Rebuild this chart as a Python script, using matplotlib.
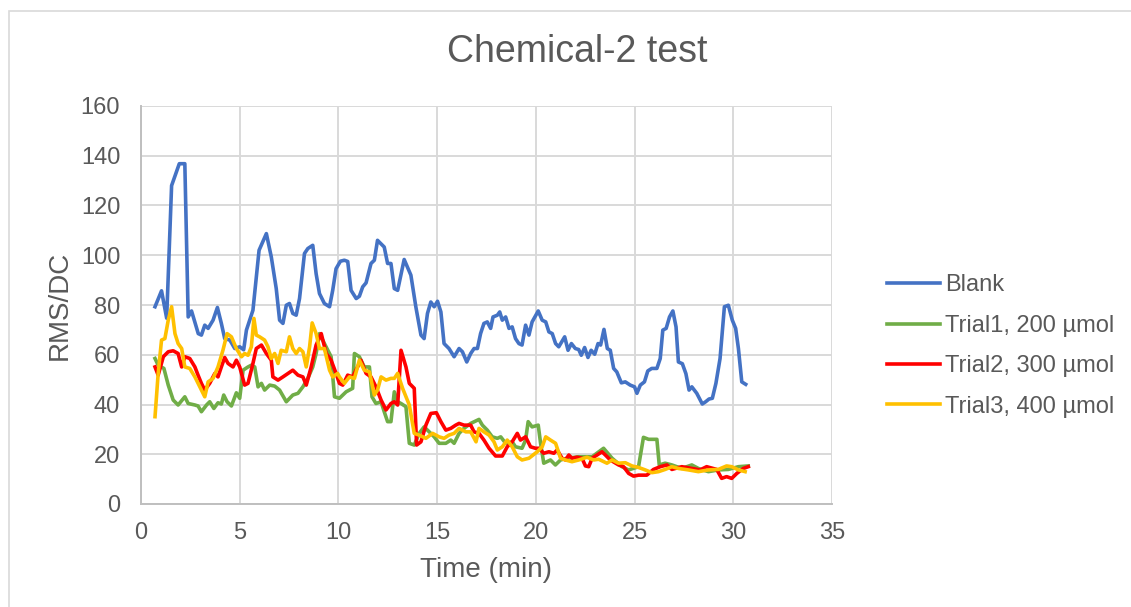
import matplotlib
matplotlib.use("Agg")
import matplotlib.pyplot as plt
from matplotlib.patches import Rectangle

plt.rcParams['font.family'] = ['Liberation Sans', 'DejaVu Sans']

# Blank
blank_x = [0.71, 1.04, 1.3, 1.55, 1.94, 2.22, 2.39, 2.56, 2.9, 3.06, 3.23, 3.4, 3.65, 3.87, 4.07,
           4.24, 4.5, 4.75, 5.0, 5.2, 5.34, 5.67, 5.98, 6.35, 6.6, 6.85, 7.02, 7.19, 7.36, 7.52,
           7.69, 7.86, 8.03, 8.28, 8.45, 8.7, 8.87, 9.04, 9.29, 9.55, 9.71, 9.88, 10.1, 10.3,
           10.47, 10.64, 10.9, 11.06, 11.23, 11.4, 11.65, 11.82, 11.98, 12.32, 12.49, 12.66,
           12.83, 13.0, 13.33, 13.67, 13.92, 14.18, 14.34, 14.51, 14.68, 14.85, 15.02, 15.19,
           15.35, 15.6, 15.86, 16.11, 16.28, 16.5, 16.7, 16.87, 17.04, 17.2, 17.37, 17.54,
           17.71, 17.83, 18.05, 18.17, 18.3, 18.47, 18.64, 18.8, 18.97, 19.14, 19.3, 19.48,
           19.65, 19.81, 20.12, 20.32, 20.5, 20.66, 20.83, 21.0, 21.16, 21.46, 21.63, 21.8,
           22.0, 22.17, 22.3, 22.47, 22.64, 22.8, 22.98, 23.15, 23.28, 23.45, 23.62, 23.77,
           23.94, 24.1, 24.33, 24.53, 24.78, 25.0, 25.12, 25.29, 25.5, 25.67, 25.87, 26.13,
           26.3, 26.43, 26.6, 26.77, 26.94, 27.1, 27.22, 27.42, 27.6, 27.76, 27.9, 28.15,
           28.43, 28.6, 28.77, 28.94, 29.12, 29.33, 29.55, 29.75, 29.95, 30.12, 30.26, 30.43,
           30.63]
blank_y = [79.3, 85.7, 74.7, 128, 136.8, 136.8, 75.2, 77.6, 68.5, 67.9, 71.9, 70.6, 73.9, 79, 72.6,
           66.5, 65.9, 62.5, 63.2, 62, 69.9, 77.9, 102, 108.7, 99.3, 86.6, 73.9, 72.6, 79.9, 80.6,
           76.6, 75.9, 82.6, 100.7, 102.7, 104, 92.6, 84.6, 80.6, 79.3, 85.9, 94.6, 97.6, 98,
           97.5, 85.9, 82.6, 83.5, 87.3, 88.9, 96.7, 98, 106, 103.3, 96.7, 96.7,
           86.6, 85.9, 98.3, 92, 79.3, 67.9, 66.5, 76.6, 81.2, 79.3, 81.5, 77.2,
           64.5, 62.5, 59.2, 62.5, 61.2, 57.1, 60.5, 62.5, 62.5, 68.5, 72.6, 73.2,
           70.6, 75.2, 75.9, 77.2, 73.9, 75.2, 70.6, 71.2, 66.5, 64.5, 63.9, 71.9,
           67.9, 73.2, 77.6, 73.9, 73.2, 69.2, 68.5, 64.5, 63.2, 67.2, 61.8, 64.5,
           62.5, 62.1, 59.8, 62.9, 58.9, 61.8, 60.2, 64.5, 63.9, 70.2, 62.5, 61.8,
           54.5, 53.1, 48.7, 49.1, 47.8, 47.1, 44.5, 47.8, 49.1, 53.5, 54.5, 54.5,
           58.5, 69.9, 70.6, 75.2, 77.6, 71.2, 57.1, 56.4, 52.4, 45.8, 47.1, 44.5,
           40.2, 41.1, 42.2, 42.5, 48.5, 58.5, 79.3, 79.9, 73.9, 70.6, 62.5, 49.1,
           48.1]

# Trial1, 200 umol
t1_x = [0.71, 0.87, 1.16, 1.38, 1.63, 1.88, 2.22, 2.39, 2.73, 2.89, 3.06, 3.32, 3.48, 3.69, 3.9,
        4.07, 4.19, 4.36, 4.58, 4.83, 5.0, 5.17, 5.42, 5.59, 5.76, 5.93, 6.1, 6.26, 6.52, 6.77,
        7.02, 7.36, 7.69, 7.95, 8.2, 8.45, 8.7, 8.87, 9.04, 9.29, 9.63, 9.8, 10.05, 10.39,
        10.72, 10.81, 11.06, 11.31, 11.57, 11.7, 11.9, 12.16, 12.32, 12.49, 12.66, 12.83,
        13.0, 13.17, 13.42, 13.59, 13.84, 14.09, 14.34, 14.6, 14.85, 15.1, 15.44, 15.69,
        15.86, 16.11, 16.36, 16.7, 17.12, 17.29, 17.54, 17.79, 18.05, 18.22, 18.47, 18.8,
        18.97, 19.3, 19.48, 19.61, 19.81, 20.12, 20.24, 20.4, 20.74, 20.99, 21.25, 21.58,
        22.17, 22.85, 23.43, 23.86, 24.36, 24.7, 25.2, 25.45, 25.71, 26.13, 26.25, 26.55,
        26.89, 27.39, 27.9, 28.23, 28.74, 29.24, 29.75, 30.26, 30.76]
t1_y = [58.5, 55.8, 54.5, 47.8, 41.8, 39.8, 43.1, 40.4, 39.8, 39.4, 37.1, 39.8, 41.1, 38.4, 40.7,
        40.2, 43.8, 41.1, 39.4, 44.7, 42.5, 53.8, 55.1, 55.8, 55.1, 47.1, 48.5, 45.8, 47.8, 47.4,
        45.8, 41.1, 43.8, 44.5, 47.1, 50.5, 55.1, 60.5, 68.5, 64.5, 59.2, 43.1, 42.5, 45.1,
        46.5, 60.5, 59.2, 55.1, 55.1, 43.1, 40.4, 41.1, 37.1, 33.1, 33.1, 45.1,
        41.1, 40.4, 39.1, 24.4, 23.7, 28.4, 31.0, 29.0, 27.0, 24.4, 24.4, 25.7,
        24.4, 28.4, 30.4, 32.4, 34.0, 31.7, 29.7, 27.0, 26.4, 27.0, 24.4, 25.0,
        23.0, 22.4, 25.7, 33.1, 31.0, 31.7, 24.4, 16.4, 17.7, 15.7, 17.7, 18.4,
        19.0, 19.0, 22.4, 18.4, 15.0, 13.7, 15.0, 26.8, 26.0, 26.0, 15.7, 16.4,
        15.7, 14.3, 15.7, 14.3, 13.0, 13.7, 13.9, 15.0, 15.3]

# Trial2, 300 umol
t2_x = [0.71, 0.87, 1.13, 1.38, 1.63, 1.88, 2.06, 2.22, 2.47, 2.73, 2.89, 3.06, 3.23, 3.48, 3.74,
        3.9, 4.07, 4.24, 4.41, 4.66, 4.83, 5.0, 5.25, 5.42, 5.67, 5.84, 6.1, 6.35, 6.6, 6.68,
        6.94, 7.19, 7.69, 7.95, 8.2, 8.37, 8.62, 8.87, 9.13, 9.38, 9.63, 9.88, 10.05, 10.22,
        10.47, 10.72, 10.97, 11.14, 11.4, 11.65, 11.9, 12.16, 12.41, 12.66, 12.83, 13.0,
        13.17, 13.42, 13.59, 13.84, 13.96, 14.18, 14.43, 14.68, 14.96, 15.19, 15.44, 15.69,
        15.94, 16.11, 16.36, 16.7, 16.87, 17.12, 17.37, 17.63, 17.96, 18.3, 18.55, 18.8,
        19.06, 19.22, 19.48, 19.73, 19.98, 20.15, 20.4, 20.66, 20.91, 21.08, 21.33, 21.5,
        21.67, 21.83, 22.08, 22.34, 22.51, 22.68, 22.85, 23.1, 23.35, 23.52, 23.77, 24.19,
        24.44, 24.7, 24.95, 25.2, 25.62, 25.96, 26.3, 26.64, 26.89, 27.39, 27.9, 28.32,
        28.65, 29.16, 29.41, 29.66, 29.92, 30.18, 30.51, 30.76]
t2_y = [55.1, 51.8, 59.2, 61.2, 61.6, 60.5, 55.1, 59.2, 58.5, 55.1, 51.8, 48.5, 45.8, 48.5, 52.5,
        51.1, 55.1, 58.9, 56.5, 55.1, 57.8, 55.1, 47.8, 48.5, 56.5, 62.5, 63.9, 60.5, 57.8, 51.1,
        49.8, 51.1, 53.8, 51.8, 51.1, 47.8, 55.1, 63.9, 68.5, 60.5, 57.8, 52.5, 48.5, 47.8,
        51.8, 51.1, 55.1, 57.8, 52.5, 51.1, 47.1, 41.8, 37.8, 40.4, 41.1, 39.8,
        61.8, 55.1, 48.5, 46.5, 23.7, 25.0, 31.7, 36.4, 36.7, 33.1, 29.7, 30.4,
        31.7, 32.4, 31.7, 31.7, 29.0, 28.4, 25.7, 22.4, 19.3, 19.3, 23.0, 25.0,
        28.4, 25.7, 27.0, 23.0, 22.4, 22.4, 20.4, 21.0, 20.4, 21.7, 18.4, 17.7,
        19.7, 18.4, 18.8, 18.4, 15.3, 15.0, 18.4, 19.7, 21.0, 19.7, 17.7, 15.7,
        15.0, 12.3, 11.2, 11.6, 11.6, 13.9, 15.0, 15.7, 13.9, 15.0, 14.3, 13.7,
        15.0, 13.9, 10.3, 11.0, 10.3, 12.3, 14.3, 15.0]

# Trial3, 400 umol
t3_x = [0.71, 0.87, 1.04, 1.21, 1.38, 1.55, 1.72, 1.88, 2.06, 2.22, 2.47, 2.73, 2.98, 3.23, 3.4,
        3.65, 3.9, 4.15, 4.36, 4.58, 4.83, 5.09, 5.25, 5.42, 5.59, 5.72, 5.84, 6.01, 6.26, 6.43,
        6.6, 6.77, 6.94, 7.1, 7.36, 7.52, 7.69, 7.86, 8.03, 8.2, 8.37, 8.54, 8.67, 8.87, 9.04,
        9.29, 9.55, 9.71, 9.96, 10.05, 10.3, 10.56, 10.81, 11.06, 11.31, 11.57, 11.82, 11.98,
        12.16, 12.41, 12.66, 12.83, 13.0, 13.25, 13.59, 13.84, 14.09, 14.43, 14.77, 15.1,
        15.35, 15.6, 15.86, 16.11, 16.45, 16.7, 16.97, 17.12, 17.37, 17.63, 17.88, 18.05,
        18.3, 18.55, 18.8, 19.06, 19.3, 19.65, 20.07, 20.32, 20.5, 20.74, 21.0, 21.25, 21.5,
        21.83, 22.17, 22.59, 22.93, 23.18, 23.6, 23.86, 24.19, 24.53, 24.87, 25.2, 25.54,
        25.88, 26.21, 26.55, 26.89, 27.22, 27.73, 28.23, 28.74, 29.24, 29.66, 29.92, 30.26,
        30.6]
t3_y = [35.1, 52.5, 65.9, 66.5, 73.9, 79.3, 68.5, 64.5, 62.5, 55.1, 54.5, 51.1, 47.1, 43.1, 49.1,
        50.5, 55.1, 61.8, 68.5, 67.2, 62.5, 59.2, 60.5, 59.8, 63.2, 74.6, 67.9, 67.2, 65.9, 63.2,
        58.5, 60.5, 56.5, 61.8, 61.2, 67.2, 62.5, 60.5, 62.5, 61.2, 55.1, 63.2, 72.8, 68.5, 62.5,
        62.5, 53.8, 51.1, 52.5, 51.1, 48.5, 51.1, 50.5, 57.8, 53.8, 53.1, 43.8, 45.8,
        51.1, 49.8, 50.5, 50.5, 52.5, 46.5, 39.8, 28.4, 27.7, 26.4, 28.4, 27.0,
        26.4, 27.7, 28.4, 30.4, 29.0, 29.0, 25.0, 30.4, 29.0, 27.7, 25.0, 21.7,
        23.0, 25.7, 23.0, 19.0, 17.7, 18.4, 21.0, 23.0, 27.0, 25.7, 24.4, 18.4, 17.7,
        17.0, 17.7, 18.8, 17.7, 18.0, 16.4, 17.7, 16.4, 16.6, 15.3, 14.7, 13.7,
        12.6, 13.0, 13.9, 15.0, 14.3, 13.7, 13.0, 13.7, 13.9, 15.3, 15.0, 13.7,
        13.0]

text_color = '#595959'

fig = plt.figure(figsize=(11.31, 6.07), dpi=100)
ax = fig.add_axes([141 / 1131, 1 - 504 / 607, (832 - 141) / 1131, (504 - 106) / 607])

ax.plot(blank_x, blank_y, color='#4472C4', linewidth=2.6, label='Blank')
ax.plot(t1_x, t1_y, color='#70AD47', linewidth=2.6, label='Trial1, 200 µmol')
ax.plot(t2_x, t2_y, color='#FF0000', linewidth=2.6, label='Trial2, 300 µmol')
ax.plot(t3_x, t3_y, color='#FFC000', linewidth=2.6, label='Trial3, 400 µmol')

ax.set_xlim(0, 35)
ax.set_ylim(0, 160)
ax.set_xticks(range(0, 36, 5))
ax.set_yticks(range(0, 161, 20))
ax.grid(True, color='#D9D9D9', linewidth=1.4)
ax.set_axisbelow(True)
for s in ['top', 'right']:
    ax.spines[s].set_visible(False)
for s in ['left', 'bottom']:
    ax.spines[s].set_color('#BFBFBF')
    ax.spines[s].set_linewidth(1.4)
ax.tick_params(length=0, labelsize=17, labelcolor=text_color)
ax.tick_params(axis='y', pad=15)
ax.tick_params(axis='x', pad=13)

fig.text(577 / 1131, 1 - 52 / 607, 'Chemical-2 test', fontsize=27, color=text_color,
         ha='center', va='center')
fig.text(486 / 1131, 1 - 570 / 607, 'Time (min)', fontsize=20, color=text_color,
         ha='center', va='center')
fig.text(60 / 1131, 1 - 305 / 607, 'RMS/DC', fontsize=20, color=text_color,
         ha='center', va='center', rotation=90)

leg = ax.legend(loc='center left', bbox_to_anchor=(887 / 1131, 1 - 346 / 607),
                bbox_transform=fig.transFigure, frameon=False, fontsize=17,
                handlelength=2.25, handletextpad=0.2, labelspacing=0.78,
                borderpad=0, borderaxespad=0)
for t in leg.get_texts():
    t.set_color(text_color)

fig.add_artist(Rectangle((9 / 1131, -0.5), 2, 1.5 - 11 / 607, transform=fig.transFigure,
                         fill=False, edgecolor='#D9D9D9', linewidth=1.2))

fig.savefig('out.png', dpi=100)
